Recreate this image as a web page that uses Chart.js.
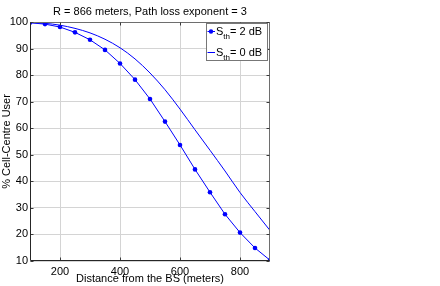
<!DOCTYPE html>
<html>
<head>
<meta charset="utf-8">
<script src="https://cdn.jsdelivr.net/npm/chart.js@4"></script>
<style>
  html, body { margin: 0; padding: 0; background: #fff; }
  #wrap { width: 440px; height: 286px; }
</style>
</head>
<body>
<div id="wrap"><canvas id="coverage_chart" width="440" height="286"></canvas></div>
<script>
const distances = [100, 150, 200, 250, 300, 350, 400, 450, 500, 550, 600, 650, 700, 750, 800, 850, 900];
const sth2dB = [99.7, 99.2, 98.1, 96.1, 93.3, 89.5, 84.4, 78.3, 71.0, 62.5, 53.7, 44.5, 35.9, 27.6, 20.7, 14.9, 10.3];
const sth0dB = [99.8, 99.5, 98.8, 97.6, 95.9, 93.5, 90.3, 86.1, 80.8, 74.5, 67.2, 59.4, 51.7, 43.9, 35.8, 28.6, 21.5];
const xTicks = [200, 400, 600, 800];
const yTicks = [10, 20, 30, 40, 50, 60, 70, 80, 90, 100];

const titleText = 'R = 866 meters, Path loss exponent = 3';
const xTitle = 'Distance from the BS (meters)';
const yTitle = '% Cell-Centre User';
const legendItems = [
    { base: 'S', sub: 'th', rest: '= 2 dB', marker: true },
    { base: 'S', sub: 'th', rest: '= 0 dB', marker: false }
];

const FONT = '"Liberation Sans", Arial, Helvetica, sans-serif';
const BLUE = '#0000ff';

function toPoints(xs, ys) {
    return xs.map((x, i) => ({ x: x, y: ys[i] }));
}

const decorPlugin = {
    id: 'decor',
    afterDraw(chart) {
        const ctx = chart.ctx;
        const area = chart.chartArea;
        const xs = chart.scales.x;
        const ys = chart.scales.y;
        const L = Math.round(area.left) + 0.5;
        const R = Math.round(area.right) - 0.5;
        const T = Math.round(area.top) + 0.5;
        const B = Math.round(area.bottom) - 0.5;

        ctx.save();
        // top and right box lines
        ctx.strokeStyle = '#6e6e6e';
        ctx.lineWidth = 1;
        ctx.beginPath();
        ctx.moveTo(L, T); ctx.lineTo(R, T); ctx.lineTo(R, B);
        ctx.stroke();

        // inward ticks
        ctx.strokeStyle = '#3a3a3a';
        ctx.beginPath();
        xTicks.forEach(v => {
            const px = Math.round(xs.getPixelForValue(v)) + 0.5;
            ctx.moveTo(px, B); ctx.lineTo(px, B - 3);
            ctx.moveTo(px, T); ctx.lineTo(px, T + 3);
        });
        yTicks.forEach(v => {
            const py = Math.round(ys.getPixelForValue(v)) + 0.5;
            ctx.moveTo(L, py); ctx.lineTo(L + 3, py);
            ctx.moveTo(R, py); ctx.lineTo(R - 3, py);
        });
        ctx.stroke();

        // left and bottom axis lines
        ctx.strokeStyle = '#262626';
        ctx.beginPath();
        ctx.moveTo(L, T); ctx.lineTo(L, B); ctx.lineTo(R, B);
        ctx.stroke();

        // titles
        ctx.fillStyle = '#000';
        ctx.font = '11px ' + FONT;
        ctx.textAlign = 'center';
        ctx.textBaseline = 'alphabetic';
        const cx = (area.left + area.right) / 2;
        ctx.fillText(titleText, cx, 15);
        ctx.fillText(xTitle, cx, 282);

        ctx.save();
        ctx.translate(9.5, (area.top + area.bottom) / 2);
        ctx.rotate(-Math.PI / 2);
        ctx.fillText(yTitle, 0, 0);
        ctx.restore();

        // legend
        const box = { x: 206.5, y: 23.5, w: 61, h: 37 };
        ctx.fillStyle = '#fff';
        ctx.fillRect(box.x, box.y, box.w, box.h);
        ctx.strokeStyle = '#777';
        ctx.strokeRect(box.x, box.y, box.w, box.h);

        legendItems.forEach((item, i) => {
            const ly = 31.5 + i * 21;
            ctx.strokeStyle = BLUE;
            ctx.lineWidth = 1;
            ctx.beginPath();
            ctx.moveTo(207.5, ly); ctx.lineTo(215, ly);
            ctx.stroke();
            if (item.marker) {
                ctx.fillStyle = BLUE;
                ctx.beginPath();
                ctx.arc(211, ly, 2.2, 0, Math.PI * 2);
                ctx.fill();
            }
            ctx.fillStyle = '#000';
            ctx.textAlign = 'left';
            let tx = 216;
            const base = ly + 3.5;
            ctx.font = '11px ' + FONT;
            ctx.fillText(item.base, tx, base);
            tx += ctx.measureText(item.base).width;
            ctx.font = '8px ' + FONT;
            ctx.fillText(item.sub, tx, base + 4);
            tx += ctx.measureText(item.sub).width;
            ctx.font = '11px ' + FONT;
            ctx.fillText(item.rest, tx, base);
        });
        ctx.restore();
    }
};

new Chart(document.getElementById('coverage_chart').getContext('2d'), {
    type: 'line',
    data: {
        datasets: [
            {
                label: 'Sth = 2 dB',
                data: toPoints(distances, sth2dB),
                borderColor: BLUE,
                backgroundColor: BLUE,
                borderWidth: 1,
                pointRadius: 2.3,
                pointStyle: 'circle',
                pointBorderWidth: 0,
                tension: 0
            },
            {
                label: 'Sth = 0 dB',
                data: toPoints(distances, sth0dB),
                borderColor: BLUE,
                backgroundColor: BLUE,
                borderWidth: 1,
                pointRadius: 0,
                cubicInterpolationMode: 'monotone'
            }
        ]
    },
    options: {
        responsive: false,
        animation: false,
        devicePixelRatio: 1,
        layout: { padding: { left: 0, right: 170, top: 22, bottom: 0 } },
        plugins: {
            legend: { display: false },
            title: { display: false },
            tooltip: { enabled: false }
        },
        scales: {
            x: {
                type: 'linear',
                min: 100,
                max: 900,
                afterBuildTicks: scale => { scale.ticks = xTicks.map(v => ({ value: v })); },
                afterFit: scale => { scale.height = 25; },
                grid: { color: '#d4d4d4', borderDash: [1, 2], drawTicks: false },
                border: { display: false },
                ticks: { color: '#000', font: { family: FONT, size: 11 }, padding: 4, maxRotation: 0 }
            },
            y: {
                min: 10,
                max: 100,
                afterBuildTicks: scale => { scale.ticks = yTicks.map(v => ({ value: v })); },
                afterFit: scale => { scale.width = 30; },
                grid: { color: '#d4d4d4', borderDash: [1, 2], drawTicks: false },
                border: { display: false },
                ticks: { color: '#000', font: { family: FONT, size: 11 }, padding: 2 }
            }
        }
    },
    plugins: [decorPlugin]
});
</script>
</body>
</html>
